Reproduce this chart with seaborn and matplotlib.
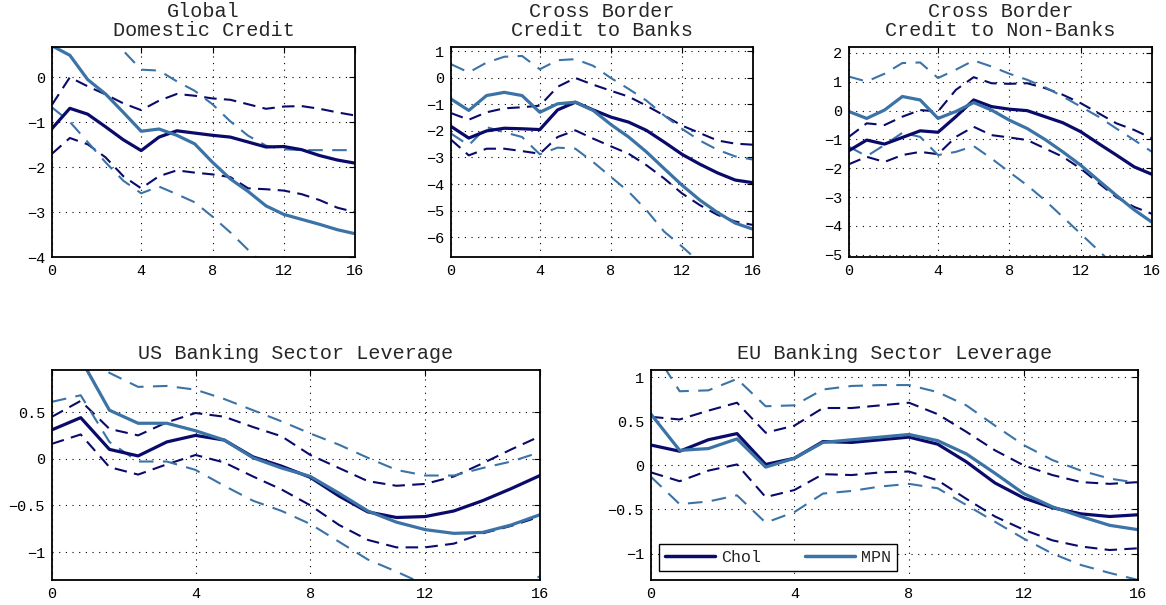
import numpy as np
import pandas as pd
import seaborn as sns
import matplotlib.pyplot as plt
from matplotlib.lines import Line2D
from matplotlib.ticker import FuncFormatter

# horizon: 18 steps, labelled 0..16 at positions 0,5,9,13,17
steps = list(range(18))
tick_pos = [0, 5, 9, 13, 17]
tick_lab = ["0", "4", "8", "12", "16"]

# Global Domestic Credit
gdc_chol = [-1.14, -0.69, -0.82, -1.10, -1.39, -1.63, -1.33, -1.19, -1.24, -1.29, -1.33, -1.44, -1.55, -1.54, -1.61, -1.74, -1.84, -1.91]
gdc_chol_hi = [-0.61, 0.0, -0.2, -0.38, -0.58, -0.73, -0.52, -0.37, -0.41, -0.47, -0.5, -0.6, -0.7, -0.65, -0.64, -0.7, -0.78, -0.85]
gdc_chol_lo = [-1.70, -1.35, -1.49, -1.78, -2.2, -2.47, -2.2, -2.07, -2.12, -2.16, -2.22, -2.47, -2.49, -2.52, -2.6, -2.73, -2.9, -3.0]
gdc_mpn = [0.7, 0.49, -0.05, -0.37, -0.78, -1.20, -1.15, -1.29, -1.48, -1.89, -2.26, -2.54, -2.86, -3.05, -3.16, -3.27, -3.39, -3.48]
gdc_mpn_hi = [2.2, 1.9, 1.5, 1.1, 0.59, 0.17, 0.15, -0.09, -0.3, -0.6, -0.98, -1.3, -1.52, -1.6, -1.62, -1.62, -1.62, -1.62]
gdc_mpn_lo = [-0.67, -0.99, -1.44, -1.89, -2.30, -2.58, -2.43, -2.6, -2.78, -3.1, -3.45, -3.84, -4.2, -4.5, -4.8, -5.0, -5.2, -5.4]

# Cross Border Credit to Banks
cbb_chol = [-1.83, -2.27, -2.0, -1.9, -1.92, -1.95, -1.21, -0.92, -1.21, -1.48, -1.67, -1.98, -2.42, -2.88, -3.25, -3.58, -3.85, -3.95]
cbb_chol_hi = [-1.33, -1.58, -1.3, -1.15, -1.11, -1.05, -0.34, -0.01, -0.26, -0.49, -0.71, -1.05, -1.42, -1.8, -2.08, -2.36, -2.48, -2.52]
cbb_chol_lo = [-2.33, -2.92, -2.67, -2.67, -2.76, -2.86, -2.23, -1.98, -2.29, -2.58, -2.86, -3.29, -3.79, -4.35, -4.79, -5.16, -5.41, -5.54]
cbb_mpn = [-0.8, -1.23, -0.67, -0.55, -0.67, -1.3, -0.98, -0.92, -1.23, -1.76, -2.23, -2.79, -3.42, -4.04, -4.6, -5.07, -5.47, -5.7]
cbb_mpn_hi = [0.51, 0.2, 0.57, 0.79, 0.82, 0.32, 0.66, 0.7, 0.45, -0.01, -0.42, -0.86, -1.42, -1.92, -2.36, -2.71, -2.96, -3.08]
cbb_mpn_lo = [-2.1, -2.54, -1.86, -2.05, -2.23, -2.88, -2.63, -2.67, -3.17, -3.73, -4.29, -4.98, -5.79, -6.35, -6.95, -7.5, -8.0, -8.5]

# Cross Border Credit to Non-Banks
cbn_chol = [-1.39, -1.02, -1.16, -0.93, -0.70, -0.75, -0.21, 0.37, 0.14, 0.05, 0.0, -0.21, -0.42, -0.73, -1.14, -1.54, -1.95, -2.21]
cbn_chol_hi = [-0.91, -0.44, -0.5, -0.21, 0.02, -0.03, 0.72, 1.16, 0.95, 0.93, 0.95, 0.78, 0.55, 0.26, -0.09, -0.44, -0.67, -0.96]
cbn_chol_lo = [-1.86, -1.6, -1.78, -1.54, -1.43, -1.51, -0.91, -0.56, -0.85, -0.93, -1.02, -1.31, -1.6, -2.01, -2.51, -3.0, -3.34, -3.58]
cbn_mpn = [-0.03, -0.27, 0.02, 0.49, 0.37, -0.27, -0.03, 0.28, 0.02, -0.33, -0.62, -1.0, -1.43, -1.89, -2.42, -2.94, -3.44, -3.87]
cbn_mpn_hi = [1.18, 1.01, 1.28, 1.65, 1.67, 1.13, 1.42, 1.74, 1.53, 1.28, 1.07, 0.81, 0.49, 0.14, -0.21, -0.62, -1.02, -1.43]
cbn_mpn_lo = [-1.25, -1.58, -1.19, -0.77, -0.91, -1.54, -1.43, -1.23, -1.66, -2.13, -2.59, -3.11, -3.69, -4.27, -4.85, -5.44, -6.0, -6.5]

# US Banking Sector Leverage
us_chol = [0.31, 0.44, 0.10, 0.03, 0.18, 0.25, 0.20, 0.02, -0.08, -0.20, -0.40, -0.57, -0.63, -0.62, -0.56, -0.45, -0.32, -0.18]
us_chol_hi = [0.45, 0.62, 0.32, 0.25, 0.39, 0.49, 0.45, 0.34, 0.24, 0.04, -0.10, -0.24, -0.29, -0.27, -0.19, -0.05, 0.10, 0.24]
us_chol_lo = [0.16, 0.26, -0.09, -0.17, -0.06, 0.04, -0.04, -0.19, -0.33, -0.50, -0.71, -0.87, -0.95, -0.95, -0.91, -0.80, -0.72, -0.62]
us_mpn = [1.3, 1.07, 0.52, 0.38, 0.38, 0.30, 0.20, 0.01, -0.10, -0.19, -0.37, -0.56, -0.68, -0.76, -0.80, -0.79, -0.71, -0.60]
us_mpn_hi = [1.4, 1.2, 0.92, 0.77, 0.78, 0.74, 0.64, 0.52, 0.40, 0.27, 0.15, 0.01, -0.12, -0.18, -0.18, -0.10, -0.03, 0.07]
us_mpn_lo = [0.61, 0.68, 0.18, -0.03, -0.03, -0.12, -0.29, -0.45, -0.56, -0.70, -0.89, -1.08, -1.21, -1.35, -1.42, -1.45, -1.40, -1.26]

# EU Banking Sector Leverage
eu_chol = [0.23, 0.16, 0.29, 0.36, 0.01, 0.08, 0.27, 0.26, 0.29, 0.32, 0.24, 0.04, -0.20, -0.37, -0.48, -0.55, -0.58, -0.56]
eu_chol_hi = [0.55, 0.52, 0.62, 0.71, 0.37, 0.45, 0.65, 0.65, 0.68, 0.71, 0.58, 0.38, 0.17, 0.0, -0.11, -0.19, -0.21, -0.19]
eu_chol_lo = [-0.08, -0.18, -0.06, 0.01, -0.36, -0.28, -0.10, -0.11, -0.08, -0.07, -0.17, -0.38, -0.58, -0.73, -0.85, -0.92, -0.96, -0.94]
eu_mpn = [0.58, 0.17, 0.19, 0.30, -0.02, 0.08, 0.26, 0.29, 0.32, 0.35, 0.28, 0.13, -0.09, -0.32, -0.47, -0.58, -0.68, -0.73]
eu_mpn_hi = [1.35, 0.84, 0.85, 0.98, 0.67, 0.68, 0.86, 0.90, 0.91, 0.91, 0.83, 0.68, 0.45, 0.23, 0.06, -0.06, -0.15, -0.20]
eu_mpn_lo = [-0.13, -0.44, -0.41, -0.34, -0.65, -0.53, -0.32, -0.29, -0.24, -0.21, -0.26, -0.45, -0.64, -0.83, -1.0, -1.13, -1.22, -1.30]

CHOL = "#0a0a6a"
MPN = "#3b73a6"

sns.set_style("white")
plt.rcParams["font.family"] = ["Liberation Mono", "DejaVu Sans"]

fig = plt.figure(figsize=(11.66, 6.05), dpi=100)

panels = [
    ("Global\nDomestic Credit", [0.0446, 0.575, 0.260, 0.347], (-4, 0.67), [-4, -3, -2, -1, 0],
     gdc_chol, gdc_chol_hi, gdc_chol_lo, gdc_mpn, gdc_mpn_hi, gdc_mpn_lo),
    ("Cross Border\nCredit to Banks", [0.3868, 0.575, 0.259, 0.347], (-6.75, 1.15), [-6, -5, -4, -3, -2, -1, 0, 1],
     cbb_chol, cbb_chol_hi, cbb_chol_lo, cbb_mpn, cbb_mpn_hi, cbb_mpn_lo),
    ("Cross Border\nCredit to Non-Banks", [0.728, 0.575, 0.260, 0.347], (-5.08, 2.2), [-5, -4, -3, -2, -1, 0, 1, 2],
     cbn_chol, cbn_chol_hi, cbn_chol_lo, cbn_mpn, cbn_mpn_hi, cbn_mpn_lo),
    ("US Banking Sector Leverage", [0.0446, 0.0413, 0.4185, 0.347], (-1.3, 0.95), [-1, -0.5, 0, 0.5],
     us_chol, us_chol_hi, us_chol_lo, us_mpn, us_mpn_hi, us_mpn_lo),
    ("EU Banking Sector Leverage", [0.5583, 0.0413, 0.418, 0.347], (-1.3, 1.08), [-1, -0.5, 0, 0.5, 1],
     eu_chol, eu_chol_hi, eu_chol_lo, eu_mpn, eu_mpn_hi, eu_mpn_lo),
]

for title, rect, ylim, yticks, c, c_hi, c_lo, m, m_hi, m_lo in panels:
    ax = fig.add_axes(rect)
    df = pd.DataFrame({"h": steps, "c": c, "c_hi": c_hi, "c_lo": c_lo,
                       "m": m, "m_hi": m_hi, "m_lo": m_lo})
    # bands first, point estimates on top
    for col in ["c_hi", "c_lo"]:
        sns.lineplot(data=df, x="h", y=col, ax=ax, color=CHOL, lw=1.5)
        ax.lines[-1].set_dashes((6, 3.5))
    for col in ["m_hi", "m_lo"]:
        sns.lineplot(data=df, x="h", y=col, ax=ax, color=MPN, lw=1.5)
        ax.lines[-1].set_dashes((7, 4.5))
    sns.lineplot(data=df, x="h", y="c", ax=ax, color=CHOL, lw=2.3)
    sns.lineplot(data=df, x="h", y="m", ax=ax, color=MPN, lw=2.3)

    ax.set_xlim(0, 17)
    ax.set_ylim(*ylim)
    ax.set_xticks(tick_pos)
    ax.set_xticklabels(tick_lab)
    ax.set_yticks(yticks)
    ax.yaxis.set_major_formatter(FuncFormatter(lambda v, p: f"{v:g}".replace("-", "\u2212")))
    ax.set_xlabel("")
    ax.set_ylabel("")
    ax.set_title(title, fontsize=14.5, pad=8, linespacing=1.0)
    ax.grid(True, color="black", linestyle=(0, (1, 5)), linewidth=0.8)
    ax.tick_params(direction="in", top=True, right=True, length=4, width=0.8,
                   labelsize=11, colors="black", pad=5)
    for s in ax.spines.values():
        s.set_color("black")
        s.set_linewidth(1.3)

# legend box in the EU panel, lower left
handles = [Line2D([], [], color=CHOL, lw=2.5), Line2D([], [], color=MPN, lw=2.5)]
leg = ax.legend(handles, ["Chol", "MPN"], loc="lower left", ncol=2, fontsize=12,
                frameon=True, fancybox=False, edgecolor="black", framealpha=1,
                handlelength=3.0, handletextpad=0.4, columnspacing=0.7,
                borderpad=0.35, borderaxespad=0, mode="expand",
                bbox_to_anchor=(0.016, 0.043, 0.489, 0.13))
leg.get_frame().set_linewidth(1.0)

fig.savefig("out.png", dpi=100)
